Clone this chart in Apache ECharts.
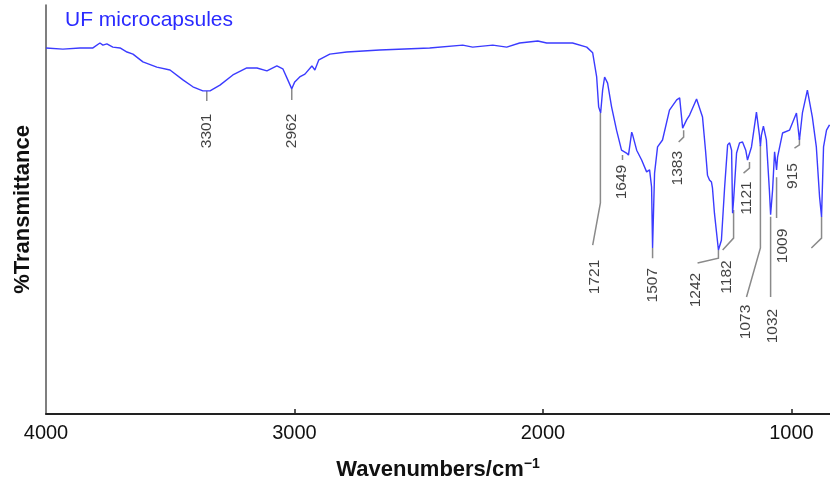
<!DOCTYPE html>
<html><head><meta charset="utf-8">
<script src="https://cdn.jsdelivr.net/npm/echarts@6/dist/echarts.min.js"></script>
<style>html,body{margin:0;padding:0;background:#fff}#c{width:830px;height:488px}</style>
</head><body><div id="c"></div>
<script>
// Spectrum (apparent wavenumber as placed on the drawn axis, %T in arbitrary 0-100 units)
const wavenumber = [4000,3932,3863,3811,3783,3771,3755,3731,3702,3674,3650,3610,3554,3501,3449,3409,3369,3340,3300,3248,3192,3151,3111,3071,3047,3027,3011,2999,2979,2958,2930,2918,2902,2858,2790,2657,2456,2323,2283,2202,2146,2094,2021,1985,1881,1824,1800,1784,1776,1768,1760,1752,1740,1724,1704,1684,1664,1656,1643,1639,1623,1603,1583,1571,1563,1559,1551,1539,1519,1491,1462,1450,1438,1422,1410,1382,1358,1346,1338,1330,1322,1318,1310,1294,1282,1269,1257,1249,1241,1237,1233,1221,1209,1197,1184,1177,1161,1141,1129,1125,1121,1113,1101,1089,1084,1076,1068,1060,1056,1036,1008,980,968,956,936,916,900,887,879,871,859,847];
const transmittance = [89.5,89.2,89.5,89.5,90.7,90.2,90.5,89.7,89.5,88.5,88.0,86.1,84.8,84.1,81.7,80.0,79.0,79.0,80.4,82.9,84.6,84.6,83.9,85.1,84.4,81.7,79.5,81.2,82.4,83.1,85.1,84.1,86.6,88.0,88.5,89.0,89.5,90.2,89.7,90.2,89.7,90.7,91.2,90.7,90.7,89.7,88.3,82.4,75.1,73.6,79.2,82.4,80.9,75.1,69.4,64.5,63.8,63.3,68.9,68.2,64.5,62.1,59.2,59.7,55.5,40.6,58.9,65.3,67.0,74.3,76.8,77.3,69.9,71.9,73.1,77.0,72.6,64.5,58.4,57.2,56.7,55.3,49.1,40.1,42.5,55.5,65.8,66.3,64.5,49.1,52.3,63.8,66.3,66.5,64.5,62.1,65.3,73.8,68.2,65.5,68.2,70.4,67.0,54.8,48.7,54.8,64.1,59.7,62.8,68.7,69.4,73.6,67.0,73.6,79.2,72.6,65.3,53.1,48.2,65.3,69.4,70.7];

// Peak annotations
const peakNames  = ['3301','2962','1721','1649','1507','1383','1242','1182','1121','1073','1032','1009','915'];
const peakLabelX = [3353,3011,1792,1684,1559,1458,1386,1261,1181,1185,1076,1036,996];
const peakLabelY = [69.2,69.2,33.5,56.7,31.5,60.1,30.3,33.5,52.8,22.5,21.5,41.1,58.2];

// Leader lines (one polyline per peak, plus an unlabeled one at the right edge)
const leaderX = [[3353,3353],[3011,3011],[1769,1769,1800],[1680,1680],[1559,1559],[1434,1434,1454],[1294,1294,1378],[1233,1233,1277],[1169,1169,1193],[1125,1125,1181],[1084,1084],[1060,1060],[968,968,988],[879,879,920]];
const leaderY = [[79.0,76.5],[79.5,76.8],[73.6,51.6,41.3],[63.3,62.1],[40.6,38.1],[69.4,67.7,66.5],[40.1,38.1,36.9],[49.9,43.0,40.1],[61.6,60.1,58.9],[65.8,40.6,28.6],[48.2,28.6],[57.9,47.9],[67.5,65.8,65.0],[48.2,43.0,40.6]];

const xTickValues = [4000,3000,2000,1000];
const xMin = 845, xMax = 4000;

const FONT = '"Liberation Sans", Arial, Helvetica, sans-serif';
const chart = echarts.init(document.getElementById('c'), null, {renderer:'canvas'});

const spectrum = wavenumber.map((w,i)=>[w, transmittance[i]]);
const labels = peakNames.map((n,i)=>({name:n, value:[peakLabelX[i], peakLabelY[i]]}));
const leaders = leaderX.map((xs,i)=>({coords: xs.map((x,j)=>[x, leaderY[i][j]])}));

chart.setOption({
  backgroundColor:'#fff',
  animation:false,
  title:{text:'UF microcapsules', left:60, top:5,
    textStyle:{color:'#2a2aff', fontSize:21, fontWeight:'normal', fontFamily:FONT}},
  grid:{left:46, right:0, top:5, bottom:74, containLabel:false},
  xAxis:{type:'value', inverse:true, min:xMin, max:xMax,
    axisLine:{show:true, lineStyle:{color:'#222', width:2}},
    axisTick:{show:true, inside:true, length:5, customValues:[3000,2000,1000], lineStyle:{color:'#222', width:1.5}},
    axisLabel:{customValues:xTickValues, formatter:(v)=>String(v), color:'#111', fontSize:20, fontFamily:FONT, margin:9},
    splitLine:{show:false},
    name:'{a|Wavenumbers/cm}{s|−1}', nameLocation:'middle', nameGap:43,
    nameTextStyle:{rich:{
      a:{fontSize:22, fontWeight:'bold', color:'#111', fontFamily:FONT},
      s:{fontSize:14, fontWeight:'bold', color:'#111', fontFamily:FONT, padding:[0,0,12,0]}
    }}
  },
  yAxis:{type:'value', min:0, max:100,
    axisLine:{show:true, lineStyle:{color:'#555', width:1.5}},
    axisTick:{show:false}, axisLabel:{show:false}, splitLine:{show:false},
    name:'%Transmittance', nameLocation:'middle', nameGap:12,
    nameTextStyle:{fontSize:22, fontWeight:'bold', color:'#111', fontFamily:FONT}
  },
  series:[
    {type:'lines', coordinateSystem:'cartesian2d', polyline:true, silent:true,
     lineStyle:{color:'#8a8a8a', width:1.5, opacity:1}, data:leaders, z:2},
    {type:'line', data:spectrum, showSymbol:false, symbol:'none',
     lineStyle:{color:'#3b3bff', width:1.4}, z:3},
    {type:'scatter', data:labels, symbolSize:0, silent:true, z:4,
     label:{show:true, formatter:'{b}', rotate:90, position:'inside', align:'center', verticalAlign:'middle',
       color:'#111', fontSize:15.5, fontFamily:FONT}}
  ]
});
</script></body></html>
